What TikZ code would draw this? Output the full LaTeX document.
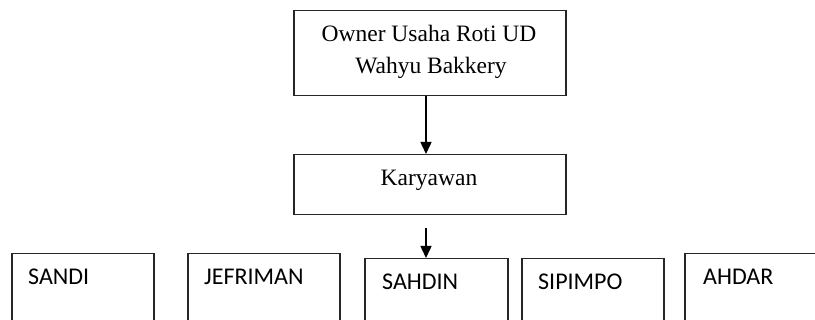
\documentclass[tikz,border=0pt]{standalone}
\usepackage{fontspec}
\setmainfont{Liberation Serif}
\newfontfamily\calib{Carlito}
\usetikzlibrary{arrows.meta}
\tikzset{
  boxshape/.style={draw=black!85, line width=1.5pt, rectangle, inner sep=0pt, anchor=north west},
  serift/.style={font=\fontsize{23.5}{32}\selectfont, inner sep=0pt, anchor=base, align=center},
  sanst/.style={font=\calib\fontsize{24}{28}\selectfont, inner sep=0pt, anchor=base west},
  conn/.style={line width=1.5pt, -{Triangle[width=11pt,length=12pt]}}
}
\begin{document}
\begin{tikzpicture}[x=1pt,y=-1pt]
\useasboundingbox (0,0) rectangle (815,320);
\clip (0,0) rectangle (815,320);
% top boxes
\node[boxshape, minimum width=272pt, minimum height=85pt] (owner) at (293,10) {};
\node[boxshape, minimum width=272pt, minimum height=60pt] (kary) at (293,154) {};
\node[serift] (ownert1) at (429,42) {Owner Usaha Roti UD};
\node[serift] (ownert2) at (431,74) {Wahyu Bakkery};
\node[serift] (karyt) at (429,186) {Karyawan};
% bottom boxes
\node[boxshape, minimum width=142pt, minimum height=90pt] (sandi) at (11,253) {};
\node[boxshape, minimum width=152pt, minimum height=90pt] (jef) at (187,253) {};
\node[boxshape, minimum width=143pt, minimum height=90pt] (sahdin) at (364,258) {};
\node[boxshape, minimum width=142pt, minimum height=90pt] (sipimpo) at (521,258) {};
\node[boxshape, minimum width=160pt, minimum height=90pt] (ahdar) at (684,253) {};
\node[sanst] (sandit) at (28,285) {SANDI};
\node[sanst] (jeft) at (204,285) {JEFRIMAN};
\node[sanst] (sahdint) at (382,290) {SAHDIN};
\node[sanst] (sipimpot) at (538,290) {SIPIMPO};
\node[sanst] (ahdart) at (703,285) {AHDAR};
% connectors
\coordinate (c1) at (426,0);
\coordinate (c2) at (426,228);
\draw[conn] (owner.south -| c1) -- (kary.north -| c1);
\draw[conn] (c2) -- (c2 |- sahdin.north);
\end{tikzpicture}
\end{document}
